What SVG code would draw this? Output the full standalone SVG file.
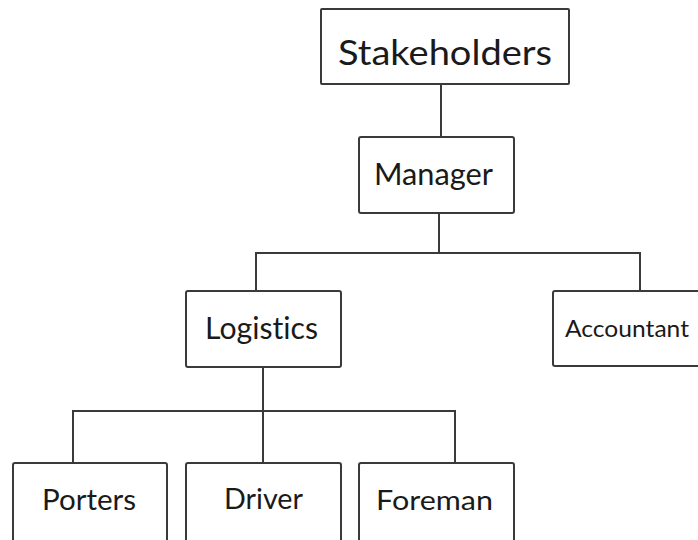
<svg xmlns="http://www.w3.org/2000/svg" width="698" height="540" viewBox="0 0 698 540">
<style>
.box{fill:#ffffff;stroke:#3a3a3a;stroke-width:2}
.lbl{font-family:Lato,"Open Sans","Liberation Sans",sans-serif;fill:#1a1a1a;text-anchor:start;font-variant-ligatures:none;font-feature-settings:"liga" 0,"clig" 0}
.conn{fill:none;stroke:#3a3a3a;stroke-width:2}
</style>
<rect width="698" height="540" fill="#ffffff"/>
<g id="connectors">
<path class="conn" d="M441 84V137"/>
<path class="conn" d="M439 213V253M256 291V253H640V291"/>
<path class="conn" d="M263 367V411M73 463V411H455V463M263 411V463"/>
</g>
<g id="stakeholders">
<rect class="box" x="321" y="9" width="248" height="75" rx="1"/>
<text class="lbl" x="338" y="65" font-size="35" textLength="214" lengthAdjust="spacingAndGlyphs">Stakeholders</text>
</g>
<g id="manager">
<rect class="box" x="359" y="137" width="155" height="76" rx="2"/>
<text class="lbl" x="374" y="185" font-size="30" textLength="119" lengthAdjust="spacingAndGlyphs">Manager</text>
</g>
<g id="logistics">
<rect class="box" x="186" y="291" width="155" height="76" rx="2"/>
<text class="lbl" x="205" y="339" font-size="30" textLength="113" lengthAdjust="spacingAndGlyphs">Logistics</text>
</g>
<g id="accountant">
<rect class="box" x="553" y="291" width="160" height="75" rx="2"/>
<text class="lbl" x="565" y="337" font-size="24" textLength="124" lengthAdjust="spacingAndGlyphs">Accountant</text>
</g>
<g id="porters">
<rect class="box" x="13" y="463" width="154" height="90" rx="2"/>
<text class="lbl" x="42" y="510" font-size="29" textLength="94" lengthAdjust="spacingAndGlyphs">Porters</text>
</g>
<g id="driver">
<rect class="box" x="186" y="463" width="155" height="90" rx="2"/>
<text class="lbl" x="224" y="509" font-size="28" textLength="79" lengthAdjust="spacingAndGlyphs">Driver</text>
</g>
<g id="foreman">
<rect class="box" x="359" y="463" width="155" height="90" rx="2"/>
<text class="lbl" x="376" y="510" font-size="27" textLength="117" lengthAdjust="spacingAndGlyphs">Foreman</text>
</g>
</svg>
